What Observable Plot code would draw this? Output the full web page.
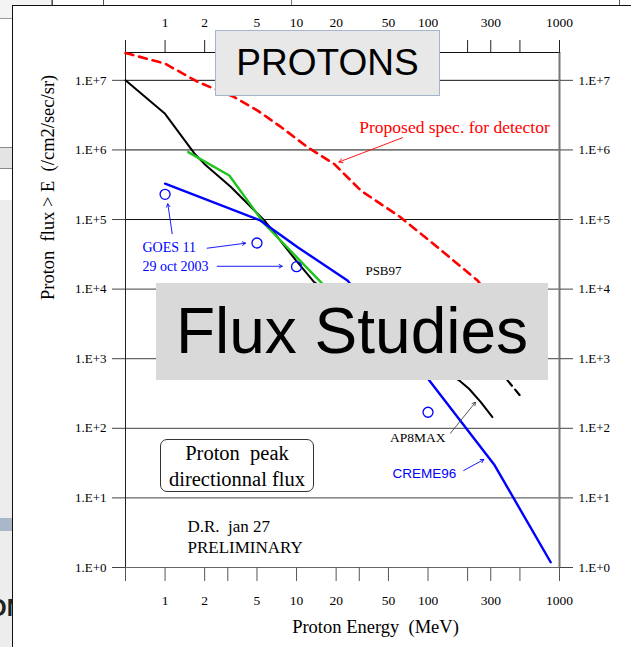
<!DOCTYPE html>
<html>
<head>
<meta charset="utf-8">
<script src="https://cdn.jsdelivr.net/npm/d3@7"></script>
<script src="https://cdn.jsdelivr.net/npm/@observablehq/plot@0.6"></script>
<style>
  body { margin: 0; background: #fff; }
  #wrap { position: relative; width: 631px; height: 647px; overflow: hidden; background: #fff; }
  .deco { position: absolute; box-sizing: border-box; }
  #panel { position: absolute; left: 12px; top: 5px; right: -2px; bottom: -2px; background: #fff;
           border-left: 1.5px solid #111; border-top: 1.5px solid #111; }
  #chart { position: absolute; left: 0; top: 0; }
  .box { position: absolute; box-sizing: border-box; text-align: center; white-space: nowrap; }
  #protons { left: 215px; top: 29.5px; width: 225px; height: 66px; background: #e8e8e8;
             border: 1.5px solid #a3b6cc; font: 37px/63px "Liberation Sans", Arial, sans-serif; color: #000; }
  #flux { left: 156px; top: 283px; width: 392px; height: 97px; background: #d9d9d9;
          font: 64px/97px "Liberation Sans", Arial, sans-serif; color: #000; }
  #peak { left: 160px; top: 439px; width: 154px; height: 53px; background: #fff;
          border: 1px solid #333; border-radius: 7px;
          font: 20.5px/26px "Liberation Serif", "Times New Roman", serif; color: #000; padding-top: 0; }
</style>
</head>
<body>
<div id="wrap">
  <!-- background slide remnants -->
  <div class="deco" style="left:-6px;top:-8px;width:58px;height:27px;border:1px solid #999;border-radius:7px;background:#f4f4f4;"></div>
  <div class="deco" style="left:52px;top:0;width:1px;height:6px;background:#555;"></div>
  <div class="deco" style="left:103px;top:0;width:1px;height:6px;background:#555;"></div>
  <div class="deco" style="left:291px;top:0;width:1px;height:6px;background:#777;"></div>
  <div class="deco" style="left:619px;top:0;width:1px;height:6px;background:#555;"></div>
  <div class="deco" style="left:0;top:147px;width:14px;height:22px;background:#e4e4e4;border-top:1px solid #888;border-bottom:1px solid #888;"></div>
  <div class="deco" style="left:0;top:200px;width:14px;height:447px;background:#ededed;"></div>
  <div class="deco" style="left:0;top:518px;width:14px;height:13px;background:#a9b8c8;"></div>
  <div class="deco" style="left:-12px;top:594px;font:bold 24px 'Liberation Sans',Arial,sans-serif;color:#222;">ON</div>
  <div id="panel"></div>
  <div id="chart"></div>
  <div class="box" id="protons">PROTONS</div>
  <div class="box" id="flux">Flux Studies</div>
  <div class="box" id="peak">Proton&nbsp; peak<br>directionnal flux</div>
</div>
<script>
// ---- axis ticks ----
const xTicks = [0.5, 1, 2, 3, 5, 10, 20, 30, 50, 100, 200, 300, 500, 1000];
const xTickLabels = [1, 2, 5, 10, 20, 50, 100, 300, 1000];
const yTicks = [1, 10, 100, 1e3, 1e4, 1e5, 1e6, 1e7];
const yTickLabels = ["1.E+0", "1.E+1", "1.E+2", "1.E+3", "1.E+4", "1.E+5", "1.E+6", "1.E+7"];

// ---- series (Energy MeV, Flux /cm2/sec/sr) ----
const specEnergy = [0.5, 1.0, 1.77, 3.36, 5.06, 7.6, 12.1, 19.3, 30.9, 61.7, 118, 238, 350];
const specFlux   = [2.47e7, 1.74e7, 9.5e6, 5.75e6, 3.67e6, 2.14e6, 1.1e6, 6.3e5, 2.6e5, 1.08e5, 4.0e4, 1.33e4, 5.0e3];

const blackEnergy = [0.5, 1.0, 1.67, 1.99, 3.17, 5.69, 9.9, 13.6, 172, 205, 252, 309];
const blackFlux   = [1.0e7, 3.3e6, 8.9e5, 6.3e5, 2.94e5, 9.7e4, 2.58e4, 1.26e4, 489, 370, 238, 145];

const dashEnergy = [402, 507];
const dashFlux   = [489, 288];

const greenEnergy = [1.5, 3.08, 5.69, 15.3, 20];
const greenFlux   = [9.3e5, 4.3e5, 8.7e4, 1.26e4, 7.6e3];

const cremeEnergy = [1.0, 5.3, 10.2, 24.4, 102, 318, 857];
const cremeFlux   = [3.27e5, 9.7e4, 4.0e4, 1.33e4, 489, 30.3, 1.19];

const goesEnergy = [1, 5, 10, 100];
const goesFlux   = [2.3e5, 4.6e4, 2.1e4, 170];

const serif = "'Liberation Serif', 'Times New Roman', serif";
const sans = "'Liberation Sans', Arial, sans-serif";
const fmtY = d => yTickLabels[yTicks.indexOf(d)];

const chart = Plot.plot({
  width: 631, height: 647,
  marginLeft: 125, marginRight: 72, marginTop: 52, marginBottom: 80,
  x: {type: "log", domain: [0.5, 1000]},
  y: {type: "log", domain: [1, 10 ** 7.4]},
  style: {background: "transparent", fontFamily: serif, fontSize: "13px", color: "#000"},
  marks: [
    Plot.ruleY(yTicks.filter(d => d >= 1e5), {stroke: "#111", strokeWidth: 1}),
    Plot.ruleY(yTicks.filter(d => d < 1e5), {stroke: "#666", strokeWidth: 1.2}),
    Plot.ruleY([10 ** 7.4], {stroke: "#111", strokeWidth: 1}),
    Plot.ruleX([0.5], {stroke: "#222", strokeWidth: 1}),
    Plot.ruleX([1000], {stroke: "#777", strokeWidth: 2}),
    Plot.axisX({anchor: "top", ticks: xTicks, tickSize: 13, tickFormat: () => "", label: null, stroke: "#222"}),
    Plot.axisX({anchor: "bottom", ticks: xTicks, tickSize: 14, tickFormat: () => "", label: null, stroke: "#555"}),
    Plot.text(xTickLabels, {x: d => d, text: d => String(d), frameAnchor: "top", dy: -30, lineAnchor: "middle", fill: "#000", fontSize: 13.5}),
    Plot.text(xTickLabels, {x: d => d, text: d => String(d), frameAnchor: "bottom", dy: 33, lineAnchor: "middle", fill: "#000", fontSize: 13.5}),
    Plot.axisY({anchor: "left", ticks: yTicks, tickSize: 13, tickPadding: 6, tickFormat: fmtY, label: null, stroke: "#444", fontSize: 13}),
    Plot.axisY({anchor: "right", ticks: yTicks, tickSize: 13, tickPadding: 6, tickFormat: fmtY, label: null, stroke: "#444", fontSize: 13}),

    Plot.line(specEnergy, {x: specEnergy, y: specFlux, stroke: "#ff0000", strokeWidth: 2.6, strokeDasharray: "8,6"}),
    Plot.line(blackEnergy, {x: blackEnergy, y: blackFlux, stroke: "#000", strokeWidth: 2}),
    Plot.line(dashEnergy, {x: dashEnergy, y: dashFlux, stroke: "#000", strokeWidth: 2.2, strokeDasharray: "7,5"}),
    Plot.line(greenEnergy, {x: greenEnergy, y: greenFlux, stroke: "#1fc41f", strokeWidth: 2.4}),
    Plot.line(cremeEnergy, {x: cremeEnergy, y: cremeFlux, stroke: "#0000ff", strokeWidth: 2.4}),
    Plot.dot(goesEnergy, {x: goesEnergy, y: goesFlux, r: 5, stroke: "#0000ff", strokeWidth: 1.3, fill: "none"}),

    // annotations
    Plot.text(["Proposed spec. for detector"], {x: 30, y: 2.1e6, textAnchor: "start", lineAnchor: "middle", fill: "#ff0000", fontSize: 17.5}),
    Plot.arrow([0], {x1: 64, y1: 1.5e6, x2: 21, y2: 6.7e5, stroke: "#ff0000", strokeWidth: 0.9, headLength: 7}),
    Plot.text(["GOES 11"], {x: 0.673, y: 3.96e4, textAnchor: "start", lineAnchor: "middle", fill: "#0000ff", fontSize: 14}),
    Plot.text(["29 oct 2003"], {x: 0.673, y: 2.11e4, textAnchor: "start", lineAnchor: "middle", fill: "#0000ff", fontSize: 14}),
    Plot.arrow([0], {x1: 1.133, y1: 6.24e4, x2: 1.049, y2: 1.68e5, stroke: "#0000ff", strokeWidth: 0.9, headLength: 6}),
    Plot.arrow([0], {x1: 2.09, y1: 3.87e4, x2: 4.09, y2: 4.57e4, stroke: "#0000ff", strokeWidth: 0.9, headLength: 6}),
    Plot.arrow([0], {x1: 2.49, y1: 2.13e4, x2: 7.78, y2: 2.13e4, stroke: "#0000ff", strokeWidth: 0.9, headLength: 6}),
    Plot.text(["PSB97"], {x: 33.4, y: 1.85e4, textAnchor: "start", lineAnchor: "middle", fill: "#000", fontSize: 13}),
    Plot.text(["AP8MAX"], {x: 135.8, y: 73.8, textAnchor: "end", lineAnchor: "middle", fill: "#000", fontSize: 13.5}),
    Plot.arrow([0], {x1: 148, y1: 85, x2: 229.6, y2: 237, stroke: "#444", strokeWidth: 0.9, headLength: 6}),
    Plot.text(["CREME96"], {x: 53.7, y: 22.6, textAnchor: "start", lineAnchor: "middle", fill: "#0000ff", fontSize: 13.5, fontFamily: sans}),
    Plot.arrow([0], {x1: 187, y1: 24.8, x2: 265.6, y2: 35.6, stroke: "#0000ff", strokeWidth: 0.9, headLength: 6}),
    Plot.text(["D.R.\u00a0 jan 27"], {x: 1.48, y: 3.88, textAnchor: "start", lineAnchor: "middle", fill: "#000", fontSize: 17}),
    Plot.text(["PRELIMINARY"], {x: 1.48, y: 1.94, textAnchor: "start", lineAnchor: "middle", fill: "#000", fontSize: 17}),

    // axis titles
    Plot.text(["Proton\u00a0 flux > E\u00a0 (/cm2/sec/sr)"], {frameAnchor: "left", dx: -77, dy: -10, rotate: -90, lineAnchor: "middle", fill: "#000", fontSize: 18.5}),
    Plot.text(["Proton Energy\u00a0 (MeV)"], {frameAnchor: "bottom", dx: 33, dy: 60, lineAnchor: "middle", fill: "#000", fontSize: 18.5})
  ]
});
document.getElementById("chart").appendChild(chart);
</script>
</body>
</html>
